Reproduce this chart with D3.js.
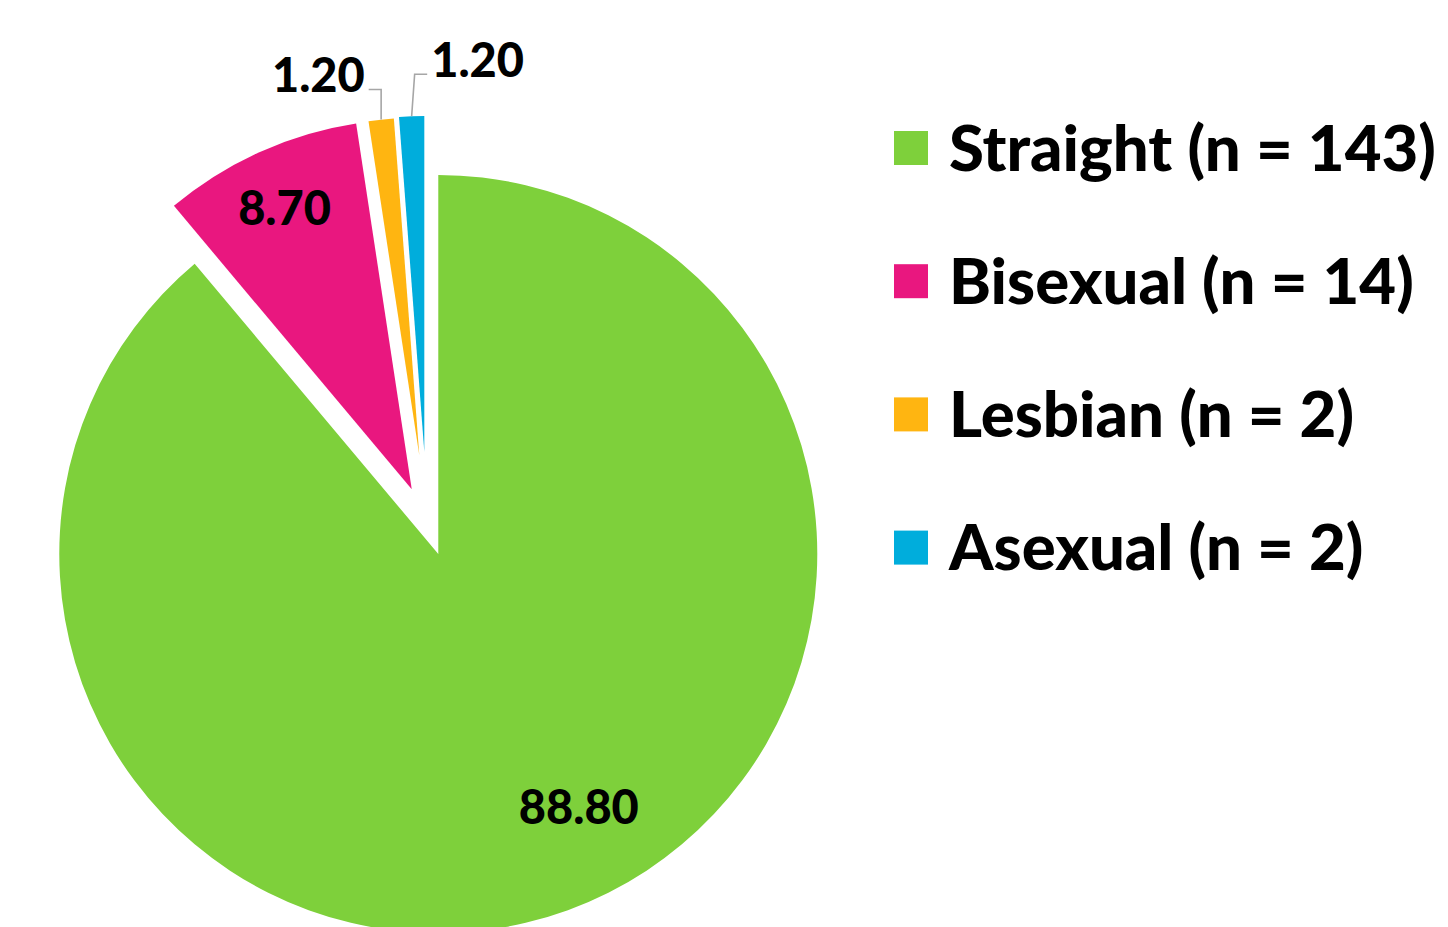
<!DOCTYPE html>
<html>
<head>
<meta charset="utf-8">
<script src="https://cdn.jsdelivr.net/npm/d3@7"></script>
<style>
  html, body { margin: 0; padding: 0; background: #ffffff; }
  svg { display: block; }
  text { font-family: Lato, "Open Sans", "DejaVu Sans", sans-serif; font-weight: 900; fill: #000; }
</style>
</head>
<body>
<svg id="chart" width="1448" height="927"></svg>
<script>
// ---- data ----
const categories = ["Straight", "Bisexual", "Lesbian", "Asexual"];
const counts = [143, 14, 2, 2];
const percents = [88.80, 8.70, 1.20, 1.20];
const colors = ["#7ED03B", "#E9177F", "#FFB511", "#00ADDC"];

// ---- layout (not data) ----
const W = 1448, H = 927;
const center = { x: 427, y: 523 };
const explode = [33, 37, 68, 71];          // px shift of each slice along its mid-angle
const radii = [379, 370, 338, 336];        // outer radius of each slice
const labelShiftDeg = [-9, 0, -8.4, 9.9];  // label angle relative to slice mid-angle
const labelRadiusFrac = [0.765, 0.835, 1.163, 1.177];
const outsideLabel = [false, false, true, true];
const leaderLean = [0, 0, 0, 3];

const svg = d3.select("#chart");
const toRad = Math.PI / 180;

const pie = d3.pie().sort(null).value(d => d.value);
const rows = categories.map((c, i) => ({ cat: c, value: percents[i], n: counts[i], color: colors[i], i }));
const arcsData = pie(rows);

function polar(a, r) { return [Math.sin(a) * r, -Math.cos(a) * r]; }

// slices
const gSlices = svg.append("g");
arcsData.forEach((d, i) => {
  const mid = (d.startAngle + d.endAngle) / 2;
  const [ox, oy] = polar(mid, explode[i]);
  const arc = d3.arc().innerRadius(0).outerRadius(radii[i]);
  gSlices.append("path")
    .attr("transform", `translate(${center.x + ox},${center.y + oy})`)
    .attr("d", arc(d))
    .attr("fill", d.data.color);
  d.apex = [center.x + ox, center.y + oy];
  d.mid = mid;
});

// fit a font size so that a text sample has a target width
function fitSize(sample, targetWidth) {
  const t = svg.append("text").attr("font-size", 100).text(sample);
  const w = t.node().getComputedTextLength();
  t.remove();
  return 100 * targetWidth / w;
}

const labelSize = fitSize("88.80", 120);
const legendSize = fitSize("Straight (n = 143)", 487);

// data labels
const gLabels = svg.append("g");
arcsData.forEach((d, i) => {
  const a = d.mid + labelShiftDeg[i] * toRad;
  const [lx, ly] = polar(a, radii[i] * labelRadiusFrac[i]);
  const x = d.apex[0] + lx, y = d.apex[1] + ly;
  const txt = d.data.value.toFixed(2);
  const t = gLabels.append("text")
    .attr("x", x)
    .attr("y", y + labelSize * 0.36)
    .attr("text-anchor", "middle")
    .attr("font-size", labelSize)
    .text(txt);
  if (outsideLabel[i]) {
    const half = t.node().getComputedTextLength() / 2;
    const [sx, sy] = polar(d.mid, radii[i]);
    const start = [d.apex[0] + sx, d.apex[1] + sy];
    const elbowY = y + 14;
    const side = start[0] > x ? 1 : -1;
    const elbow = [start[0] + leaderLean[i], elbowY];
    const end = [x + side * (half + 4), elbowY];
    gLabels.insert("path", "text")
      .attr("d", d3.line()([start, elbow, end]))
      .attr("fill", "none")
      .attr("stroke", "#A6A6A6")
      .attr("stroke-width", 1.6);
  }
});

// legend
const legendX = 894, legendY0 = 148, legendStep = 133.2, sw = 34;
const gLegend = svg.append("g");
rows.forEach((r, i) => {
  const cy = legendY0 + i * legendStep;
  gLegend.append("rect")
    .attr("x", legendX).attr("y", cy - sw / 2)
    .attr("width", sw).attr("height", sw)
    .attr("fill", r.color);
  gLegend.append("text")
    .attr("x", 949)
    .attr("y", cy + legendSize * 0.36)
    .attr("font-size", legendSize)
    .text(`${r.cat} (n = ${r.n})`);
});
</script>
</body>
</html>
